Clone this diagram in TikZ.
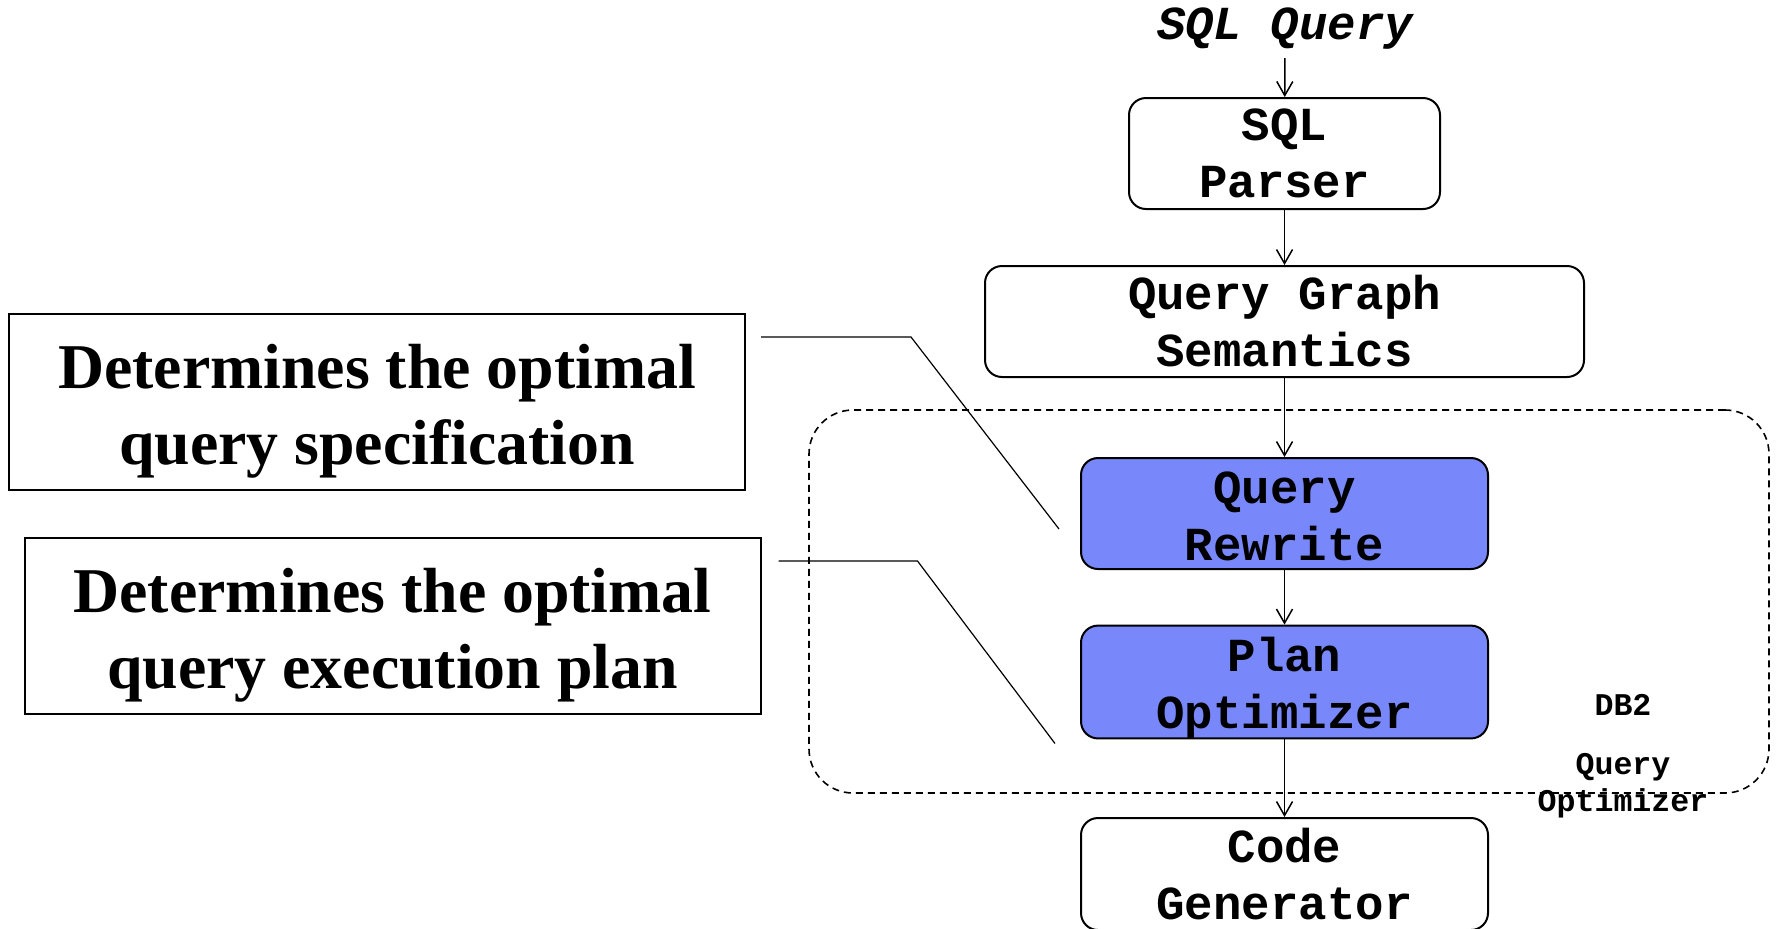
\documentclass[tikz,border=0pt]{standalone}
\usepackage{fontspec}
\setmainfont{Liberation Serif}
\newfontfamily\codefont{Liberation Mono}
\usetikzlibrary{arrows.meta,calc}
\definecolor{stagefill}{RGB}{120,136,250}
\begin{document}
\begin{tikzpicture}[x=0.5pt,y=-0.5pt,
  stage/.style={draw, line width=1pt, rounded corners=8.5pt, align=center, inner sep=0pt,
    font=\codefont\bfseries\fontsize{23.7}{28.5}\selectfont, minimum height=55.5pt},
  hot/.style={stage, fill=stagefill},
  flow/.style={line width=0.75pt, -{Straight Barb[length=7pt,width=8pt]}},
  note/.style={draw, line width=1pt, align=center, inner sep=0pt, minimum width=368pt,
    minimum height=88pt, font=\bfseries\fontsize{31.9}{38}\selectfont},
  lead/.style={line width=0.6pt},
  group/.style={draw, line width=0.8pt, dash pattern=on 3.5pt off 2.5pt, rounded corners=22pt, inner sep=0pt}]
\useasboundingbox (0,0) rectangle (1777,928);

% optimizer region
\node[group, minimum width=480pt, minimum height=191.5pt] (optim) at (1289,601.5) {};
\node[font=\codefont\bfseries\fontsize{15.8}{18.5}\selectfont, align=center, inner sep=0pt] (db2) at (1623,756) {DB2\\[11pt]Query\\Optimizer};

% pipeline stages
\node[font=\codefont\bfseries\itshape\fontsize{23.7}{28.5}\selectfont, inner sep=4pt] (sql) at (1285,29) {SQL Query};
\node[stage, minimum width=155.5pt] (parser) at (1284.5,153.5) {SQL\\Parser};
\node[stage, minimum width=299.5pt] (graph) at (1284.5,321.5) {Query Graph\\Semantics};
\node[hot, minimum width=203.5pt] (rewrite) at (1284.5,513.5) {\rule{0pt}{19pt}Query\\Rewrite};
\node[hot, minimum width=203.5pt, minimum height=56pt] (plan) at (1284.5,682) {\rule{0pt}{23pt}Plan\\Optimizer};
\node[stage, minimum width=203.5pt, minimum height=56pt] (codegen) at (1284.5,874) {Code\\Generator};

\draw[flow] (sql) -- (parser);
\draw[flow] (parser) -- (graph);
\draw[flow] (graph) -- (rewrite);
\draw[flow] (rewrite) -- (plan);
\draw[flow] (plan) -- (codegen);

% explanatory notes
\node[note] (spec) at (377,402) {\rule{0pt}{31pt}Determines the optimal\\query specification};
\node[note] (exec) at (392.5,626) {\rule{0pt}{31pt}Determines the optimal\\query execution plan};

\coordinate (specend) at (1059,529);
\coordinate (execend) at (1055,743.5);
\draw[lead] ($(spec.east)+(15,-65)$) -- ++(150,0) -- (specend);
\draw[lead] ($(exec.east)+(17,-65)$) -- ++(139,0) -- (execend);
\end{tikzpicture}
\end{document}
